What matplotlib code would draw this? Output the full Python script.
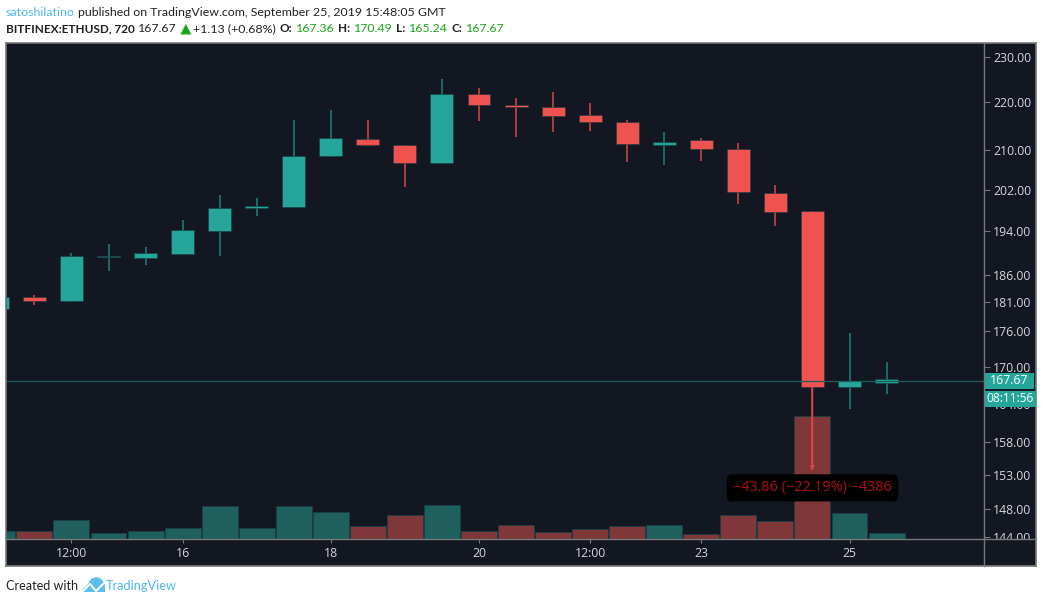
import numpy as np
import matplotlib
matplotlib.use("Agg")
import matplotlib.pyplot as plt
from matplotlib.patches import Rectangle, Polygon
from matplotlib.ticker import FixedLocator, FixedFormatter, NullLocator
from matplotlib.transforms import Bbox

plt.rcParams['font.family'] = ['Open Sans', 'DejaVu Sans']

W, H = 1043, 603

# candle values
opens  = [179.8, 181.9, 181.2, 189.2, 189.1, 189.8, 194.1, 198.5, 198.7, 208.8,
          212.3, 211.1, 207.4, 221.9, 219.5, 219.1, 217.4, 215.9, 211.1, 212.1,
          210.3, 201.4, 197.9, 166.6, 167.4]
closes = [181.9, 181.2, 189.3, 189.4, 190.0, 194.3, 198.5, 198.9, 208.8, 212.5,
          211.1, 207.4, 221.9, 219.5, 219.1, 217.1, 215.9, 211.3, 211.7, 210.3,
          201.6, 197.7, 166.6, 167.7, 167.9]
highs  = [182.4, 182.4, 190.0, 191.7, 191.1, 196.2, 201.0, 200.4, 216.3, 218.4,
          216.3, 211.1, 225.1, 223.2, 221.0, 222.3, 219.9, 216.3, 213.8, 212.5,
          211.5, 203.0, 197.9, 175.6, 170.7]
lows   = [179.8, 180.5, 181.0, 186.7, 187.8, 189.8, 189.4, 196.9, 198.7, 208.6,
          210.9, 202.6, 207.4, 216.0, 212.7, 213.8, 214.0, 207.6, 207.0, 207.8,
          199.3, 195.0, 153.7, 163.1, 165.5]
volumes = [8, 8, 19, 6, 8, 11, 33, 11, 33, 27, 13, 24, 34, 8, 14, 7, 10, 13, 14, 5,
           24, 18, 123, 26, 6]

price_ticks = [144, 148, 153, 158, 164, 170, 176, 181, 186, 194, 202, 210, 220, 230]
time_pos    = [2, 5, 9, 13, 16, 19, 23]
time_labels = ["12:00", "16", "18", "20", "12:00", "23", "25"]

last_close = 167.67
measure_text = "\u221243.86 (\u221222.19%) \u22124386"
countdown = "08:11:56"

BG = "#131722"
UP, DOWN = "#26a69a", "#ef5350"
UP_WICK, DOWN_WICK = "#1f7f78", "#d8484a"
UP_VOL, DOWN_VOL = "#1f5f5e", "#803739"
GREY = "#787878"
TEXT = "#d6d6d6"
HEAD_FONT = ['Lato', 'DejaVu Sans']


def rect(l, t, r, b):
    return [l / W, 1 - b / H, (r - l) / W, (b - t) / H]


fig = plt.figure(figsize=(W / 100, H / 100), dpi=100, facecolor="white")

bg = fig.add_axes(rect(6, 43, 1036, 566), facecolor=BG, zorder=0)
bg.set_xticks([])
bg.set_yticks([])
for s in bg.spines.values():
    s.set_color(GREY)
    s.set_linewidth(1.2)

# volume sits behind the candles, same x scale
xlim = (0.26, 26.63)
vol = fig.add_axes(rect(7, 44, 984, 539), facecolor="none", zorder=1)
x = np.arange(len(opens))
vol_colors = [UP_VOL if c >= o else DOWN_VOL for o, c in zip(opens, closes)]
vol.bar(x, volumes, width=0.97, color=vol_colors, edgecolor="#1a3f44", linewidth=0.6)
vol.set_xlim(*xlim)
vol.set_ylim(0, 495)
vol.axis("off")

ax = fig.add_axes(rect(7, 44, 984, 539), facecolor="none", zorder=2)
ax.set_yscale("log")
ax.set_xlim(*xlim)
ax.set_ylim(143.7, 232.9)

colors = [UP if c >= o else DOWN for o, c in zip(opens, closes)]
wicks = [UP_WICK if c >= o else DOWN_WICK for o, c in zip(opens, closes)]
ax.vlines(x, lows, highs, colors=wicks, linewidth=1.1, zorder=2)
tops = np.maximum(opens, closes)
bots = np.minimum(opens, closes)
ax.bar(x, tops - bots, bottom=bots, width=0.62, color=colors, edgecolor="#1a3a40",
       linewidth=0.4, zorder=3)

ax.axhline(last_close, color="#1c5c5a", linewidth=0.9, zorder=4)

# measuring tool on the big drop
ax.annotate("", xy=(22, lows[22]), xytext=(22, closes[22]),
            arrowprops=dict(arrowstyle="->", color="#d8484a", lw=1.1, mutation_scale=5,
                            shrinkA=0, shrinkB=0), zorder=5)
ax.text(22, 151.05, measure_text, color="#b01212", fontsize=10.4, ha="center", va="center",
        zorder=6, bbox=dict(boxstyle="round,pad=0.42,rounding_size=0.35", fc="black", ec="none"))

ax.yaxis.tick_right()
ax.yaxis.set_major_locator(FixedLocator(price_ticks))
ax.yaxis.set_major_formatter(FixedFormatter([f"{p:.2f}" for p in price_ticks]))
ax.yaxis.set_minor_locator(NullLocator())
ax.xaxis.set_major_locator(FixedLocator(time_pos))
ax.xaxis.set_major_formatter(FixedFormatter(time_labels))
ax.xaxis.set_minor_locator(NullLocator())
ax.tick_params(axis="y", length=4, width=0.8, color=GREY, labelcolor=TEXT, labelsize=8.8, pad=2.5)
ax.tick_params(axis="x", length=3, width=0.8, color=GREY, labelcolor=TEXT, labelsize=8.8, pad=3)
for s in ax.spines.values():
    s.set_visible(False)
for lab in ax.get_yticklabels():
    lab.set_clip_box(Bbox([[984, H - 539], [1040, H - 40]]))
    lab.set_clip_on(True)

# overlay in pixel coordinates for the chrome around the chart
top = fig.add_axes([0, 0, 1, 1], facecolor="none", zorder=5)
top.set_xlim(0, W)
top.set_ylim(H, 0)
top.axis("off")

top.plot([6, 1036], [539, 539], color=GREY, lw=1.0)
top.plot([984, 984], [43, 566], color=GREY, lw=1.0)

top.add_patch(Rectangle((984, 373), 50, 16, fc=UP, ec="none"))
top.text(1009, 381, f"{last_close:.2f}", color="white", fontsize=8.8, ha="center", va="center")
top.add_patch(Rectangle((985, 391), 51, 16, fc=UP, ec="none"))
top.text(1010.5, 399, countdown, color="white", fontsize=8.6, ha="center", va="center")

# header lines
blue, dark, green = "#4db6e8", "#222222", "#1aa51a"


def run(px, py, parts, size=8.9):
    """Draw text pieces one after the other from px."""
    rend = fig.canvas.get_renderer()
    for txt, col, weight in parts:
        t = top.text(px, py, txt, color=col, fontsize=8.5 if weight == "bold" else size,
                     fontweight=weight, family=HEAD_FONT, va="center", ha="left")
        px = t.get_window_extent(rend).x1 + 3.5
    return px


run(6, 12, [("satoshilatino", blue, "normal"),
            ("published on TradingView.com, September 25, 2019 15:48:05 GMT", dark, "normal")])
px = run(6, 29, [("BITFINEX:ETHUSD, 720", dark, "bold"), ("167.67", dark, "normal")])
top.add_patch(Polygon([[px, 34.5], [px + 11, 34.5], [px + 5.5, 24]], fc=green, ec="none"))
run(px + 13, 29, [("+1.13 (+0.68%)", dark, "normal"), ("O:", dark, "bold"), ("167.36", green, "normal"),
                  ("H:", dark, "bold"), ("170.49", green, "normal"), ("L:", dark, "bold"),
                  ("165.24", green, "normal"), ("C:", dark, "bold"), ("167.67", green, "normal")])

# footer with the small cloud logo
run(6, 586, [("Created with", dark, "normal")], size=9.1)
cloud = [[82, 590], [88, 584], [91, 579], [96, 577], [100, 578], [103, 581], [105, 585], [105, 592], [84, 592]]
top.add_patch(Polygon(cloud, fc="#5cbfe8", ec="none"))
top.plot([81, 90, 96, 106], [593, 584, 591, 581], color="white", lw=1.4)
top.text(106, 586, "TradingView", color=blue, fontsize=9.2, family=HEAD_FONT, va="center", ha="left")

fig.savefig("out.png", dpi=100)
